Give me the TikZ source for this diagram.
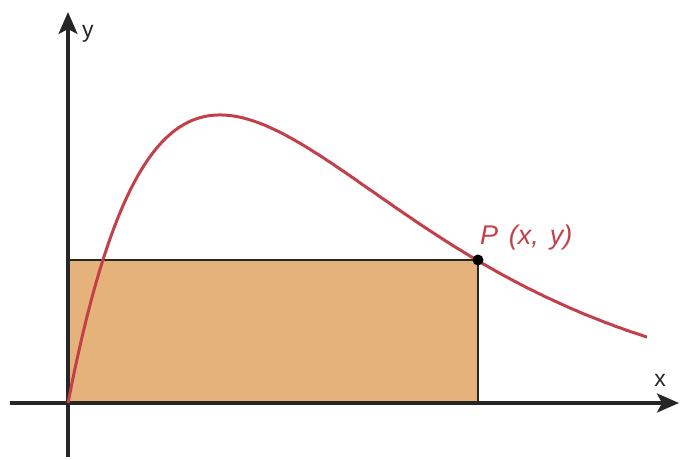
\documentclass[tikz,border=0pt]{standalone}
\usepackage{fontspec}
\setmainfont{Liberation Sans}
\usetikzlibrary{arrows.meta}
\definecolor{axisgray}{HTML}{262626}
\definecolor{curvered}{HTML}{C2404A}
\definecolor{areaorange}{HTML}{E6B27C}
\tikzset{
  axis/.style={draw=axisgray, line width=3.2pt, -{Stealth[length=22pt,width=19pt,inset=5pt]}},
  areabox/.style={fill=areaorange, draw=black!85, line width=2.6pt},
  curve/.style={draw=curvered, line width=3pt},
  lbl/.style={font=\fontsize{23}{27}\selectfont, text=axisgray, inner sep=0pt},
}
\begin{document}
\begin{tikzpicture}[x=1pt,y=-1pt]
\useasboundingbox (0,0) rectangle (680,459);
\coordinate (O) at (68,403);
\coordinate (P) at (478,260);
\coordinate (xs) at (10,403);
\coordinate (xe) at (679,403);
\coordinate (ys) at (68,457);
\coordinate (ye) at (68,12);
\filldraw[areabox] (O) rectangle (P);
\draw[axis] (xs) -- (xe);
\draw[axis] (ys) -- (ye);
\draw[curve] plot[domain=0:579, samples=150, smooth] ({68+\x}, {403-5.151*\x*exp(-\x/152)});
\fill[black] (P) circle (5.5pt);
\node[lbl, anchor=west] (ylab) at (82,34) {y};
\node[lbl, anchor=center] (xlab) at (660,380) {x};
\node[font=\fontsize{27}{31}\selectfont\itshape, text=curvered, inner sep=0pt, anchor=base west] (plab) at (480,244) {P\hspace{0.4em}(x,\hspace{0.4em}y)};
\end{tikzpicture}
\end{document}
